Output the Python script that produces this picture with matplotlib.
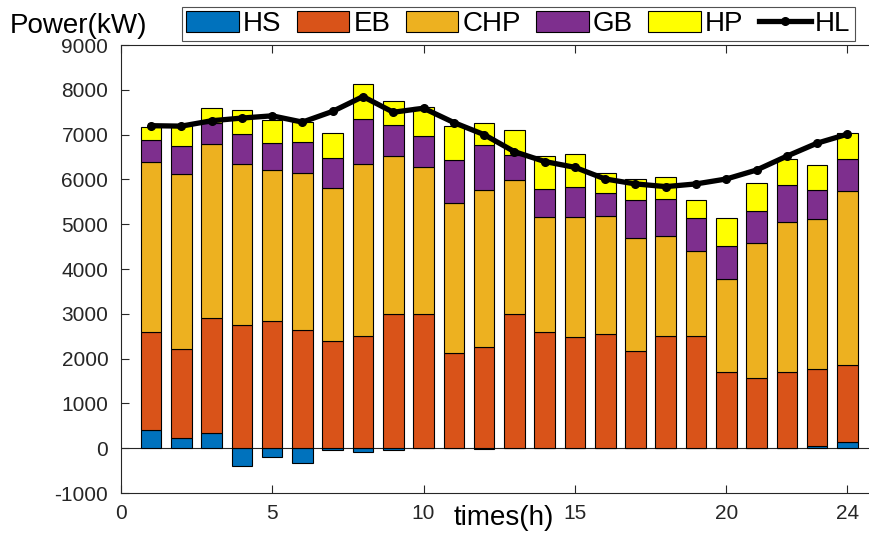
import matplotlib.pyplot as plt
import numpy as np
from matplotlib.patches import Patch
from matplotlib.lines import Line2D

plt.rcParams["font.family"] = ["Liberation Sans", "DejaVu Sans"]
plt.rcParams["axes.unicode_minus"] = False

hours = np.arange(1, 25)
# heat storage (negative = charging), electric boiler, CHP, gas boiler, heat pump
hs = [400, 220, 350, -400, -190, -335, -40, -80, -30, 0, 15, -20,
      0, 0, 0, 0, 0, 0, 0, 0, 0, 0, 60, 150]
eb = [2200, 2000, 2550, 2750, 2850, 2650, 2400, 2500, 3000, 3000, 2120, 2270,
      3000, 2600, 2480, 2550, 2170, 2500, 2500, 1700, 1570, 1700, 1700, 1710]
chp = [3780, 3900, 3880, 3600, 3370, 3500, 3400, 3840, 3530, 3280, 3340, 3490,
       2980, 2560, 2680, 2640, 2520, 2240, 1900, 2070, 3000, 3350, 3350, 3880]
gb = [500, 630, 480, 670, 600, 690, 680, 1010, 680, 700, 950, 1000,
      560, 630, 660, 510, 840, 820, 730, 740, 720, 820, 650, 720]
hp = [300, 460, 340, 530, 500, 450, 550, 780, 530, 630, 770, 500,
      560, 730, 750, 440, 480, 500, 400, 640, 620, 590, 570, 570]
hl = [7200, 7190, 7310, 7370, 7420, 7280, 7520, 7850, 7500, 7590, 7270, 7000,
      6620, 6400, 6270, 6010, 5900, 5840, 5900, 6010, 6210, 6520, 6810, 7010]

names = ["HS", "EB", "CHP", "GB", "HP"]
colors = ["#0072BD", "#D95319", "#EDB120", "#7E2F8E", "#FFFF00"]

fig = plt.figure(figsize=(8.69, 5.33), dpi=100)
ax = fig.add_axes([0.139, 0.075, 0.871, 0.8405])

w = 0.68
ax.bar(hours, hs, width=w, color=colors[0], edgecolor="black", linewidth=0.8, zorder=2)
bottom = np.maximum(np.array(hs), 0)
for vals, c in zip([eb, chp, gb, hp], colors[1:]):
    ax.bar(hours, vals, width=w, bottom=bottom, color=c, edgecolor="black",
           linewidth=0.8, zorder=2)
    bottom = bottom + np.array(vals)

ax.axhline(0, color="#262626", lw=0.8, zorder=1)
ax.plot(hours, hl, color="black", lw=3.8, marker=".", markersize=11, zorder=3)

ax.set_xlim(0, 25)
ax.set_ylim(-1000, 9000)
ax.set_xticks([0, 5, 10, 15, 20, 24])
ax.set_yticks(range(-1000, 9001, 1000))
ax.tick_params(direction="in", top=True, right=True, length=6, labelsize=15,
               colors="#262626")
ax.tick_params(axis="y", pad=9)
ax.tick_params(axis="x", pad=8)
for s in ax.spines.values():
    s.set_color("#262626")
    s.set_linewidth(0.8)

ax.set_xlabel("times(h)", fontsize=20, va="baseline")
ax.xaxis.set_label_coords(0.506, -0.0714)

fig.text(0.011, 0.951, "Power(kW)", ha="left", va="center", fontsize=20)

handles = [Patch(facecolor=c, edgecolor="black", linewidth=0.8) for c in colors]
handles.append(Line2D([], [], color="black", lw=3.8, marker=".", markersize=11))
leg = fig.legend(handles, names + ["HL"], loc="center", bbox_to_anchor=(0.5965, 0.955),
                 ncol=6, fontsize=20, frameon=True, fancybox=False, edgecolor="#262626",
                 handlelength=1.9, handleheight=0.8, handletextpad=0.14,
                 columnspacing=0.55, borderpad=0.15, borderaxespad=0)
leg.get_frame().set_linewidth(0.8)

fig.savefig("out.png", dpi=100)
